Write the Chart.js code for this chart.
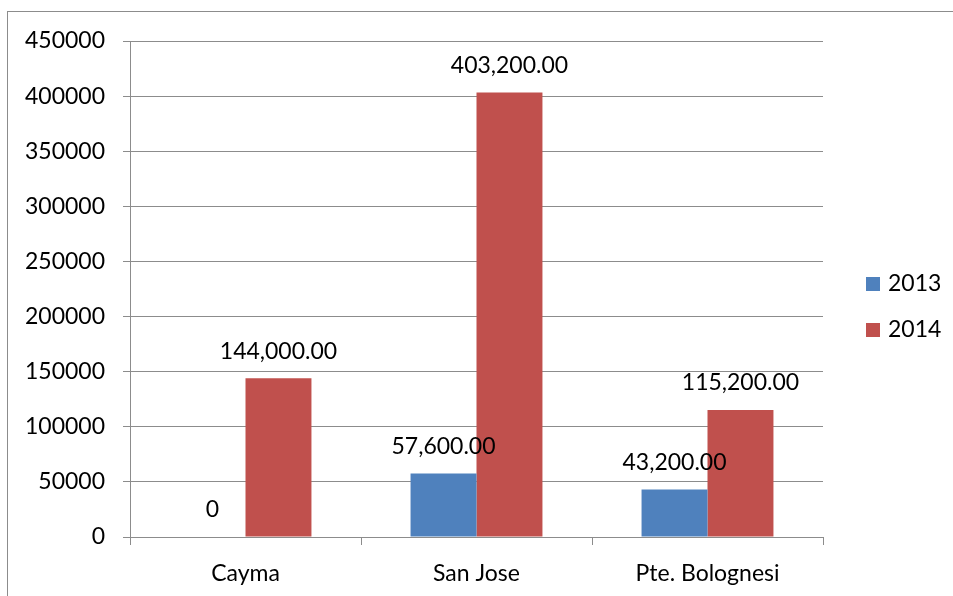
<!DOCTYPE html>
<html>
<head>
<meta charset="utf-8">
<script src="https://cdn.jsdelivr.net/npm/chart.js@4/dist/chart.umd.min.js"></script>
<style>
  html, body { margin: 0; padding: 0; background: #fff; }
  #frame {
    position: absolute; left: 7px; top: 11px;
    width: 945px; height: 584px;
    border-top: 1px solid #8c8c8c; border-left: 1px solid #8c8c8c;
  }
  canvas { display: block; }
</style>
</head>
<body>
<div id="frame"><canvas id="grafico" width="945" height="584"></canvas></div>
<script>
// categorias e séries
const categorias = ['Cayma', 'San Jose', 'Pte. Bolognesi'];
const valores2013 = [0, 57600, 43200];
const valores2014 = [144000, 403200, 115200];
const rotulosSeries = ['2013', '2014'];
const coresSeries = ['#4f81bd', '#c0504d'];

const fonte = { family: 'Lato', size: 23 };
const corGrade = '#8c8c8c';

function formatar(v) {
    if (v === 0) return '0';
    return v.toLocaleString('en-US', { minimumFractionDigits: 2, maximumFractionDigits: 2 });
}

// rótulos de valor acima das barras
const rotulosBarras = {
    id: 'rotulosBarras',
    afterDatasetsDraw(chart) {
        const ctx = chart.ctx;
        ctx.save();
        ctx.font = `${fonte.size}px ${fonte.family}`;
        ctx.fillStyle = '#000';
        ctx.textAlign = 'center';
        ctx.textBaseline = 'middle';
        chart.data.datasets.forEach((ds, i) => {
            chart.getDatasetMeta(i).data.forEach((bar, j) => {
                ctx.fillText(formatar(ds.data[j]), bar.x, bar.y - 27);
            });
        });
        ctx.restore();
    }
};

// legenda à direita, estilo planilha
const legendaLateral = {
    id: 'legendaLateral',
    afterDraw(chart) {
        const ctx = chart.ctx;
        const area = chart.chartArea;
        const x = area.right + 43;
        const yMeio = chart.height / 2 + 3;
        ctx.save();
        ctx.font = `${fonte.size}px ${fonte.family}`;
        ctx.textBaseline = 'middle';
        chart.data.datasets.forEach((ds, i) => {
            const y = yMeio - 23 + i * 46;
            ctx.fillStyle = ds.backgroundColor;
            ctx.fillRect(x, y - 7, 14, 14);
            ctx.fillStyle = '#000';
            ctx.fillText(ds.label, x + 22, y);
        });
        ctx.restore();
    }
};

const ctx = document.getElementById('grafico').getContext('2d');
new Chart(ctx, {
    type: 'bar',
    data: {
        labels: categorias,
        datasets: [
            { label: rotulosSeries[0], data: valores2013, backgroundColor: coresSeries[0] },
            { label: rotulosSeries[1], data: valores2014, backgroundColor: coresSeries[1] }
        ]
    },
    options: {
        responsive: false,
        animation: false,
        layout: { padding: { top: 29, right: 130, bottom: 0, left: 0 } },
        datasets: { bar: { categoryPercentage: 0.571, barPercentage: 1 } },
        scales: {
            x: {
                offset: true,
                grid: { offset: true, drawOnChartArea: false, tickLength: 8, color: corGrade },
                border: { color: corGrade },
                ticks: { color: '#000', font: fonte, padding: 15 },
                afterFit(s) { s.height = 59; }
            },
            y: {
                min: 0, max: 450000,
                grid: { color: corGrade, tickLength: 7 },
                border: { color: corGrade },
                ticks: {
                    stepSize: 50000, color: '#000', font: fonte, padding: 18,
                    callback: v => String(v)
                },
                afterFit(s) {
                    s.width = 122;
                    // o topo da área fica só com o padding do layout
                    s.paddingTop = 0;
                    s.paddingBottom = 0;
                }
            }
        },
        plugins: {
            legend: { display: false },
            tooltip: { enabled: false }
        }
    },
    plugins: [rotulosBarras, legendaLateral]
});
</script>
</body>
</html>
